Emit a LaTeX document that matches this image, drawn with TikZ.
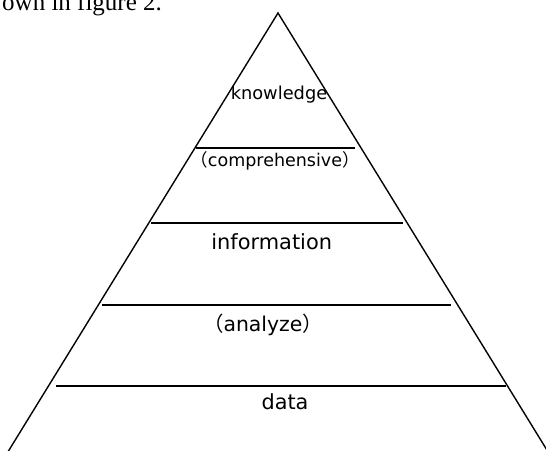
\documentclass[tikz,border=0pt]{standalone}
\usepackage{fontspec}
\setmainfont{DejaVu Sans}
\newfontfamily\serifdoc{Liberation Serif}
\newfontfamily\cjk{Noto Sans CJK SC}
\newcommand{\fp}[1]{{\cjk #1}}
\begin{document}
\begin{tikzpicture}[x=1pt,y=-1pt,
  edge/.style={line width=1.4pt,black},
  layer/.style={line width=1.6pt,black},
  lbl/.style={anchor=base,inner sep=0pt,text=black}]
\useasboundingbox (0,0) rectangle (546,450);
% fragment of document text at top
\node[anchor=base west,inner sep=0pt] (doc) at (2,10) {\serifdoc\fontsize{25}{28}\selectfont own in figure 2.};
% triangle
\coordinate (apex) at (278,13);
\coordinate (bl) at (6,455);
\coordinate (br) at (550,455);
\draw[edge,line join=miter] (bl) -- (apex) -- (br);
% layer lines
\coordinate (a1) at (196,148); \coordinate (b1) at (355,148);
\coordinate (a2) at (151,223); \coordinate (b2) at (403,223);
\coordinate (a3) at (102,305); \coordinate (b3) at (451,305);
\coordinate (a4) at (56,386);  \coordinate (b4) at (506,386);
\draw[layer] (a1) -- (b1);
\draw[layer] (a2) -- (b2);
\draw[layer] (a3) -- (b3);
\draw[layer] (a4) -- (b4);
% labels
\node[lbl] (knowledge) at (279,99.3) {\fontsize{17.8}{20}\selectfont knowledge};
\node[lbl] (comp) at (275,166.7) {\fontsize{17.5}{19}\selectfont\fp{（}comprehensive\fp{）}};
\node[lbl] (info) at (271.7,249) {\fontsize{20.9}{24}\selectfont information};
\node[lbl] (analyze) at (263,331) {\fontsize{20.4}{24}\selectfont\fp{（}analyze\fp{）}};
\node[lbl] (data) at (285,409) {\fontsize{20.8}{24}\selectfont data};
\end{tikzpicture}
\end{document}
